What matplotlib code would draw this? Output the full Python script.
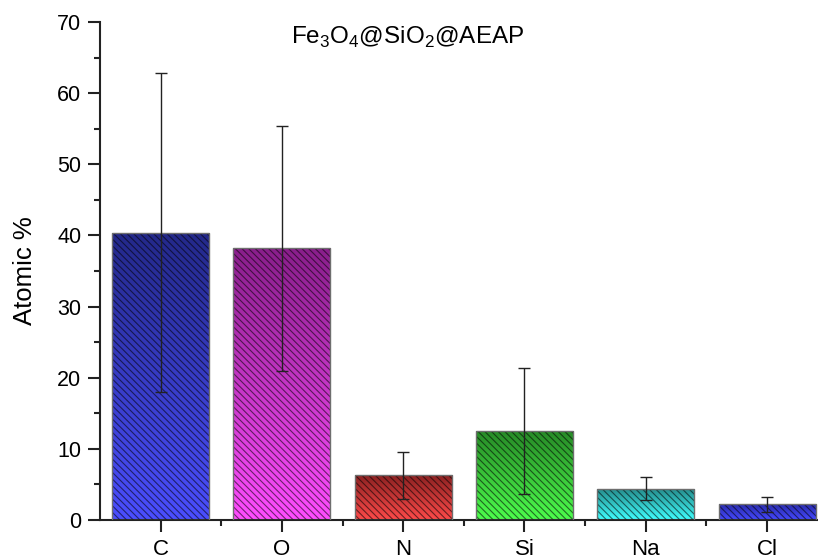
import numpy as np
import matplotlib
matplotlib.use("Agg")
import matplotlib.pyplot as plt
from matplotlib.colors import LinearSegmentedColormap

plt.rcParams["font.family"] = ["Liberation Sans", "DejaVu Sans"]
plt.rcParams["mathtext.fontset"] = "custom"
plt.rcParams["mathtext.rm"] = "Liberation Sans"
plt.rcParams["hatch.linewidth"] = 0.8

# EDS atomic composition
elements = ["C", "O", "N", "Si", "Na", "Cl"]
atomic_pct = [40.4, 38.2, 6.3, 12.5, 4.4, 2.2]
atomic_err = [22.4, 17.2, 3.3, 8.8, 1.6, 1.1]

# (top, bottom) shades for each bar's vertical gradient
bar_shades = [
    ("#232889", "#4b4eff"),
    ("#891e8b", "#ff4dff"),
    ("#8c2222", "#ff4a4a"),
    ("#278a27", "#4dff4d"),
    ("#258a8a", "#40ffff"),
    ("#2a2cab", "#4548ff"),
]

fig = plt.figure(figsize=(8.18, 5.56), dpi=100)
ax = fig.add_axes([100 / 818, 36 / 556, 1 - 100 / 818, 498 / 556])

x = np.arange(len(elements))
bars = ax.bar(x, atomic_pct, width=0.8, color="none", edgecolor="none", zorder=2)

# gradient fill clipped to each bar
for bar, (top, bottom) in zip(bars, bar_shades):
    cmap = LinearSegmentedColormap.from_list("g", [top, bottom])
    x0, y0 = bar.get_x(), bar.get_y()
    w, h = bar.get_width(), bar.get_height()
    grad = np.linspace(0, 1, 256).reshape(-1, 1)
    im = ax.imshow(grad, cmap=cmap, aspect="auto", origin="upper",
                   extent=[x0, x0 + w, y0, y0 + h], zorder=1)
    im.set_clip_path(bar)

# hatch overlay and outline
ax.bar(x, atomic_pct, width=0.8, color="none", edgecolor=(0, 0, 0, 0.55),
       hatch="\\\\\\\\\\", linewidth=0, zorder=3)
ax.bar(x, atomic_pct, width=0.8, fill=False, edgecolor="#6e6e6e",
       linewidth=1.0, zorder=4)

ax.errorbar(x, atomic_pct, yerr=atomic_err, fmt="none", ecolor="#222222",
            elinewidth=1.0, capsize=4, capthick=1.0, zorder=5)

ax.set_xlim(-0.5, 5.42)
ax.set_ylim(0, 70)
ax.set_yticks(np.arange(0, 71, 10))
ax.set_yticks(np.arange(5, 70, 10), minor=True)
ax.set_xticks(x)
ax.set_xticks(np.arange(0.5, 5, 1), minor=True)
ax.set_xticklabels(elements)

for side in ("top", "right"):
    ax.spines[side].set_visible(False)
for side in ("left", "bottom"):
    ax.spines[side].set_linewidth(1.5)
    ax.spines[side].set_color("#222222")

ax.tick_params(which="major", direction="out", length=8.5, width=1.5,
               color="#222222")
ax.tick_params(which="minor", direction="out", length=4, width=1.5,
               color="#222222")
ax.tick_params(axis="y", which="major", labelsize=15.5, pad=5)
ax.tick_params(axis="x", which="major", labelsize=16, pad=5)

ax.set_ylabel("Atomic %", fontsize=18.5)
ax.yaxis.set_label_coords(-0.088, 0.5)
fig.text(0.498, 0.933, r"Fe$_\mathrm{3}$O$_\mathrm{4}$@SiO$_\mathrm{2}$@AEAP",
         ha="center", va="center", fontsize=17.5)

fig.savefig("out.png", dpi=100)
